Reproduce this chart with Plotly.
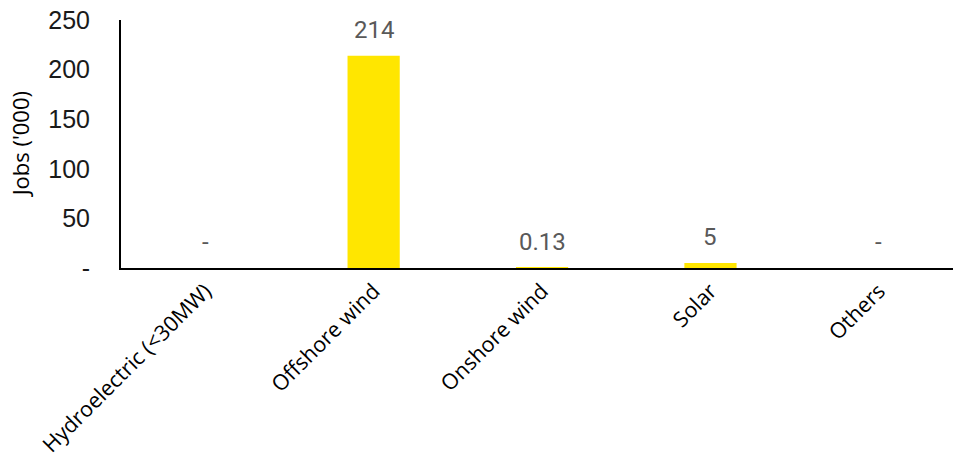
import plotly.graph_objects as go

categories = ["Hydroelectric (<30MW)", "Offshore wind", "Onshore wind", "Solar", "Others"]
jobs = [0, 214, 0.13, 5, 0]
bar_labels = ["-", "214", "0.13", "5", "-"]
y_tick_values = [0, 50, 100, 150, 200, 250]
y_tick_labels = ["-", "50", "100", "150", "200", "250"]
y_title = "Jobs ('000)"

fig = go.Figure()
fig.add_trace(go.Bar(
    x=categories, y=jobs,
    marker=dict(color="#FFE600", line=dict(width=0)),
    width=0.31,
    hoverinfo="skip",
))

for c, v, t in zip(categories, jobs, bar_labels):
    fig.add_annotation(
        x=c, y=v, text=t, showarrow=False, yanchor="bottom", yshift=10,
        font=dict(family="Roboto, sans-serif", size=24, color="#595959"),
    )

fig.add_annotation(
    xref="paper", yref="paper", x=-0.121, y=0.5, text=y_title, textangle=-90,
    showarrow=False, xanchor="center", yanchor="middle",
    font=dict(family="Open Sans, sans-serif", size=22, color="#000000"),
)

fig.update_layout(
    width=953, height=459,
    margin=dict(l=121, r=0, t=20, b=191),
    plot_bgcolor="white", paper_bgcolor="white",
    showlegend=False,
    font=dict(family="Open Sans, sans-serif", color="#000000"),
)
fig.update_xaxes(
    range=[-0.5, 4.44],
    showline=True, linecolor="#000000", linewidth=2,
    showgrid=False, ticks="", tickangle=-45, automargin=False,
    tickfont=dict(family="Open Sans, sans-serif", size=21.5, color="#000000"),
)
fig.update_yaxes(
    range=[0, 250], tickvals=y_tick_values, ticktext=y_tick_labels,
    showline=True, linecolor="#000000", linewidth=2,
    showgrid=False, zeroline=False, ticks="", automargin=False,
    ticklabelstandoff=24, ticklabeloverflow="allow",
    tickfont=dict(family="Liberation Sans, Arial, sans-serif", size=25, color="#1a1a1a"),
)

fig.write_html("out.html", config={"displayModeBar": False},
               post_script="document.body.style.margin='0';")
